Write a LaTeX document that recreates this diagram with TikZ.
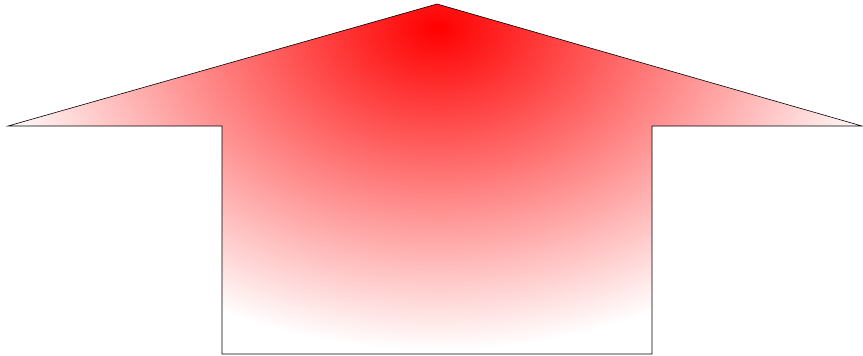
\documentclass[tikz,border=0pt]{standalone}
\usepackage{tikz}
\usepackage{xcolor}

\begin{document}
\begin{tikzpicture}[x=1pt, y=-1pt,
  outline/.style={draw=black, line width=0.6pt, line join=miter},
  glow/.style={inner color=red, outer color=white}]
  \useasboundingbox (0,0) rectangle (863,356);
  % arrow corners
  \coordinate (tip) at (437,4);
  \coordinate (lwing) at (8,126);
  \coordinate (rwing) at (862,126);
  \coordinate (lneck) at (222,126);
  \coordinate (rneck) at (652,126);
  \coordinate (lfoot) at (222,354);
  \coordinate (rfoot) at (652,354);
  \begin{scope}
    \clip (tip) -- (rwing) -- (rneck) -- (rfoot) -- (lfoot) -- (lneck) -- (lwing) -- cycle;
    \shade[glow] (437,28) ellipse (456 and 322);
  \end{scope}
  \draw[outline] (tip) -- (rwing) -- (rneck) -- (rfoot) -- (lfoot) -- (lneck) -- (lwing) -- cycle;
\end{tikzpicture}
\end{document}
